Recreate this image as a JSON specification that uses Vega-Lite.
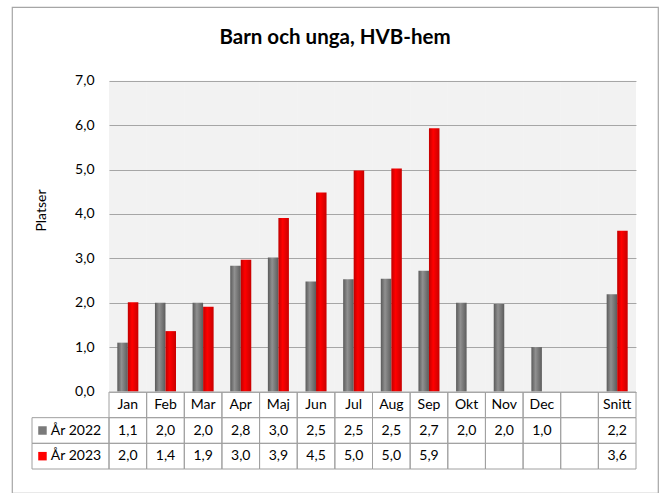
{
  "$schema": "https://vega.github.io/schema/vega-lite/v6.json",
  "width": 646,
  "height": 486,
  "autosize": {"type": "none"},
  "padding": {"left": 12, "top": 7, "right": 2, "bottom": 0},
  "background": "white",
  "config": {
    "font": "Lato",
    "locale": {"number": {"decimal": ",", "thousands": " ", "grouping": [3], "currency": ["", " kr"]}},
    "view": {"stroke": "#a6a6a6", "strokeWidth": 1.2, "fill": "white"}
  },
  "title": {"text": "Barn och unga, HVB-hem", "fontSize": 20.5, "fontWeight": "bold", "color": "#000000", "offset": -41, "anchor": "middle"},
  "datasets": {
    "months": [
      {"month": "Jan"}, {"month": "Feb"}, {"month": "Mar"}, {"month": "Apr"}, {"month": "Maj"}, {"month": "Jun"}, {"month": "Jul"},
      {"month": "Aug"}, {"month": "Sep"}, {"month": "Okt"}, {"month": "Nov"}, {"month": "Dec"}, {"month": " "}, {"month": "Snitt"}
    ],
    "bars": [
      {"month": "Jan", "year": "2022", "value": 1.1}, {"month": "Jan", "year": "2023", "value": 2.01},
      {"month": "Feb", "year": "2022", "value": 2.0}, {"month": "Feb", "year": "2023", "value": 1.36},
      {"month": "Mar", "year": "2022", "value": 2.0}, {"month": "Mar", "year": "2023", "value": 1.91},
      {"month": "Apr", "year": "2022", "value": 2.83}, {"month": "Apr", "year": "2023", "value": 2.97},
      {"month": "Maj", "year": "2022", "value": 3.02}, {"month": "Maj", "year": "2023", "value": 3.91},
      {"month": "Jun", "year": "2022", "value": 2.48}, {"month": "Jun", "year": "2023", "value": 4.48},
      {"month": "Jul", "year": "2022", "value": 2.53}, {"month": "Jul", "year": "2023", "value": 4.98},
      {"month": "Aug", "year": "2022", "value": 2.54}, {"month": "Aug", "year": "2023", "value": 5.02},
      {"month": "Sep", "year": "2022", "value": 2.72}, {"month": "Sep", "year": "2023", "value": 5.93},
      {"month": "Okt", "year": "2022", "value": 2.0},
      {"month": "Nov", "year": "2022", "value": 1.97},
      {"month": "Dec", "year": "2022", "value": 1.0},
      {"month": "Snitt", "year": "2022", "value": 2.19}, {"month": "Snitt", "year": "2023", "value": 3.62}
    ],
    "series": [
      {"year": "2022", "label": "År 2022"},
      {"year": "2023", "label": "År 2023"}
    ]
  },
  "layer": [
    {
      "layer": [
        {
          "data": {"name": "months"},
          "mark": {"type": "rect", "fill": "#000000", "fillOpacity": 0.05},
          "encoding": {
            "x": {"field": "month", "type": "nominal", "sort": null, "axis": null,
                  "scale": {"type": "band", "domain": ["Jan","Feb","Mar","Apr","Maj","Jun","Jul","Aug","Sep","Okt","Nov","Dec"," ","Snitt"], "range": [97, 624], "paddingInner": 0, "paddingOuter": 0}},
            "y": {"datum": 7, "type": "quantitative",
                  "scale": {"domain": [0, 7], "range": [384.5, 73.7], "nice": false, "zero": false},
                  "axis": {"values": [0,1,2,3,4,5,6,7], "format": ".1f", "grid": true, "gridColor": "#afafaf", "gridWidth": 1.2,
                           "ticks": false, "domain": false, "labelPadding": 15, "labelFontSize": 14, "labelColor": "#000000",
                           "offset": -97, "title": "Platser", "titleFontSize": 14, "titleFontWeight": "normal", "titleColor": "#000000",
                           "titleX": -68, "titleY": 203, "titleBaseline": "middle", "titleAlign": "center"}},
            "y2": {"datum": 0}
          }
        },
        {
          "data": {"name": "bars"},
          "transform": [{"filter": "datum.year === '2022'"}],
          "mark": {"type": "bar", "fill": {"gradient": "linear", "x1": 0, "y1": 0, "x2": 1, "y2": 0,
                   "stops": [{"offset": 0, "color": "#5a5a5a"}, {"offset": 0.4, "color": "#909090"}, {"offset": 1, "color": "#5c5c5c"}]}},
          "encoding": {
            "x": {"field": "month", "type": "nominal", "sort": null},
            "xOffset": {"field": "year", "type": "nominal", "scale": {"domain": ["2022", "2023"], "paddingInner": 0, "paddingOuter": 0.79}},
            "y": {"field": "value", "type": "quantitative"}
          }
        },
        {
          "data": {"name": "bars"},
          "transform": [{"filter": "datum.year === '2023'"}],
          "mark": {"type": "bar", "fill": {"gradient": "linear", "x1": 0, "y1": 0, "x2": 1, "y2": 0,
                   "stops": [{"offset": 0, "color": "#c00000"}, {"offset": 0.4, "color": "#ff0000"}, {"offset": 1, "color": "#c80000"}]}},
          "encoding": {
            "x": {"field": "month", "type": "nominal", "sort": null},
            "xOffset": {"field": "year", "type": "nominal"},
            "y": {"field": "value", "type": "quantitative"}
          }
        }
      ]
    },
    {
      "layer": [
        {
          "data": {"name": "months"},
          "mark": {"type": "rect", "fill": null, "stroke": "#a0a0a0", "strokeWidth": 1},
          "encoding": {
            "x": {"field": "month", "type": "nominal", "sort": null, "axis": null,
                  "scale": {"type": "band", "domain": ["Jan","Feb","Mar","Apr","Maj","Jun","Jul","Aug","Sep","Okt","Nov","Dec"," ","Snitt"], "range": [97, 624], "paddingInner": 0, "paddingOuter": 0}},
            "y": {"datum": "Rubrik", "type": "nominal", "axis": null,
                  "scale": {"type": "band", "domain": ["Rubrik", "2022", "2023"], "range": [385, 462], "paddingInner": 0, "paddingOuter": 0}}
          }
        },
        {
          "data": {"name": "months"},
          "mark": {"type": "rect", "fill": null, "stroke": "#a0a0a0", "strokeWidth": 1},
          "encoding": {
            "x": {"field": "month", "type": "nominal", "sort": null},
            "y": {"datum": "2022", "type": "nominal"}
          }
        },
        {
          "data": {"name": "months"},
          "mark": {"type": "rect", "fill": null, "stroke": "#a0a0a0", "strokeWidth": 1},
          "encoding": {
            "x": {"field": "month", "type": "nominal", "sort": null},
            "y": {"datum": "2023", "type": "nominal"}
          }
        },
        {
          "data": {"name": "months"},
          "mark": {"type": "text", "fontSize": 14, "color": "#000000", "baseline": "middle"},
          "encoding": {
            "x": {"field": "month", "type": "nominal", "sort": null},
            "y": {"datum": "Rubrik", "type": "nominal"},
            "text": {"field": "month"}
          }
        },
        {
          "data": {"name": "bars"},
          "mark": {"type": "text", "fontSize": 14, "color": "#000000", "baseline": "middle"},
          "encoding": {
            "x": {"field": "month", "type": "nominal", "sort": null},
            "y": {"field": "year", "type": "nominal"},
            "text": {"field": "value", "type": "quantitative", "format": ".1f"}
          }
        }
      ]
    },
    {
      "data": {"name": "series"},
      "layer": [
        {
          "mark": {"type": "rect", "fill": null, "stroke": "#a0a0a0", "strokeWidth": 1},
          "encoding": {
            "x": {"datum": "leg", "type": "nominal", "axis": null,
                  "scale": {"type": "band", "domain": ["leg"], "range": [20, 97], "paddingInner": 0, "paddingOuter": 0}},
            "y": {"field": "year", "type": "nominal", "axis": null,
                  "scale": {"type": "band", "domain": ["Rubrik", "2022", "2023"], "range": [385, 462], "paddingInner": 0, "paddingOuter": 0}}
          }
        },
        {
          "mark": {"type": "square", "filled": true, "size": 72, "opacity": 1},
          "encoding": {
            "x": {"datum": "leg", "type": "nominal", "bandPosition": 0.136},
            "y": {"field": "year", "type": "nominal"},
            "color": {"field": "year", "type": "nominal", "legend": null, "scale": {"domain": ["2022", "2023"], "range": ["#7a7a7a", "#ff0000"]}}
          }
        },
        {
          "mark": {"type": "text", "fontSize": 14, "color": "#000000", "baseline": "middle", "align": "left"},
          "encoding": {
            "x": {"datum": "leg", "type": "nominal", "bandPosition": 0.245},
            "y": {"field": "year", "type": "nominal"},
            "text": {"field": "label"}
          }
        }
      ]
    }
  ],
  "resolve": {"scale": {"x": "independent", "y": "independent", "xOffset": "independent", "color": "independent"}}
}
